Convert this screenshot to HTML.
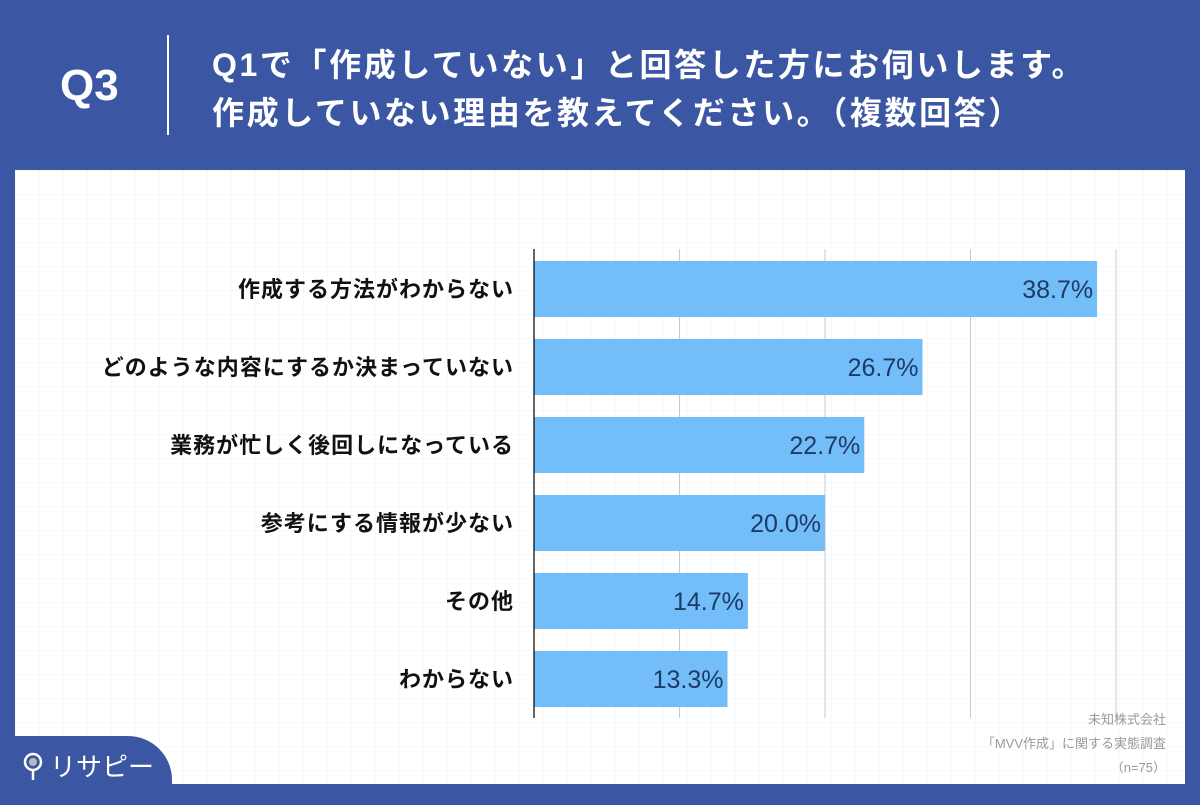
<!DOCTYPE html>
<html><head><meta charset="utf-8"><style>
*{margin:0;padding:0;box-sizing:border-box}
body{width:1200px;height:800px;background:#3b56a3;position:relative;overflow:hidden;font-family:"Liberation Sans","Noto Sans CJK JP",sans-serif}
#panel{position:absolute;left:15px;top:170px;width:1170px;height:614px;background-color:#fff;background-image:linear-gradient(#f8f8f8 1px,transparent 1px),linear-gradient(90deg,#f8f8f8 1px,transparent 1px);background-size:24px 24px}
#q{position:absolute;left:60px;top:61px;color:#fff;font-size:44px;font-weight:bold}
#div{position:absolute;left:167px;top:35px;width:2px;height:100px;background:#fff}
.t{position:absolute;left:212px;color:#fff;font-size:32px;letter-spacing:2.6px;font-weight:bold;white-space:nowrap}
#logo{position:absolute;left:0;top:736px;width:172px;height:64px;background:#3b56a3;border-top-right-radius:44px}
#src{position:absolute;right:34px;top:708px;color:#999;font-size:13px;text-align:right;line-height:24px}
</style></head><body>
<div id="panel"></div>
<div id="q">Q3</div>
<div id="div"></div>
<div class="t" style="top:40px">Q1で「作成していない」と回答した方にお伺いします。</div>
<div class="t" style="top:88px">作成していない理由を教えてください。（複数回答）</div>
<svg id="chart" width="1200" height="800" style="position:absolute;left:0;top:0"></svg>
<div id="src">未知株式会社<br>「MVV作成」に関する実態調査<br>（n=75）</div>
<div id="logo">
<svg width="172" height="64">
<circle cx="33" cy="26" r="8" fill="none" stroke="#fff" stroke-width="2.5"/><circle cx="33" cy="26" r="4" fill="#bbb"/><line x1="33" y1="34" x2="33" y2="44" stroke="#fff" stroke-width="2.5"/>
<text x="50" y="40" fill="#fff" font-size="26" font-family="Liberation Sans,Noto Sans CJK JP,sans-serif">リサピー</text>
</svg></div>
<script>
const categories=["作成する方法がわからない","どのような内容にするか決まっていない","業務が忙しく後回しになっている","参考にする情報が少ない","その他","わからない"];
const values=[38.7,26.7,22.7,20.0,14.7,13.3];
const ticks=[0,10,20,30,40];
const svg=document.getElementById('chart');
const NS='http://www.w3.org/2000/svg';
const x0=534,pxPer=14.55,top0=261,pitch=78,bh=56;
const x=v=>x0+v*pxPer;
const y=i=>top0+i*pitch;
function mk(t,a){const e=document.createElementNS(NS,t);for(const k in a)e.setAttribute(k,a[k]);svg.appendChild(e);return e;}
ticks.forEach(t=>{if(t===0)return;const l=mk('line',{x1:x(t),x2:x(t),y1:249,y2:718,stroke:'#c8c8c8','stroke-width':1});

});
values.forEach((v,i)=>{
const r=mk('rect',{x:x0,y:y(i),width:x(v)-x0,height:bh,fill:'#73bef8'});


const tv=mk('text',{x:x(v)-4,y:y(i)+bh/2+9,'text-anchor':'end','font-size':25,fill:'#1e3a66','font-family':'Liberation Sans,sans-serif'});
tv.textContent=v.toFixed(1)+'%';


const tl=mk('text',{x:514,y:y(i)+bh/2+8,'text-anchor':'end','font-size':22,'letter-spacing':1,'font-weight':'bold',fill:'#111','font-family':'Liberation Sans,Noto Sans CJK JP,sans-serif'});
tl.textContent=categories[i];


});
const ax=mk('line',{x1:x0,x2:x0,y1:249,y2:718,stroke:'#000','stroke-width':1.2});


</script>
</body></html>
